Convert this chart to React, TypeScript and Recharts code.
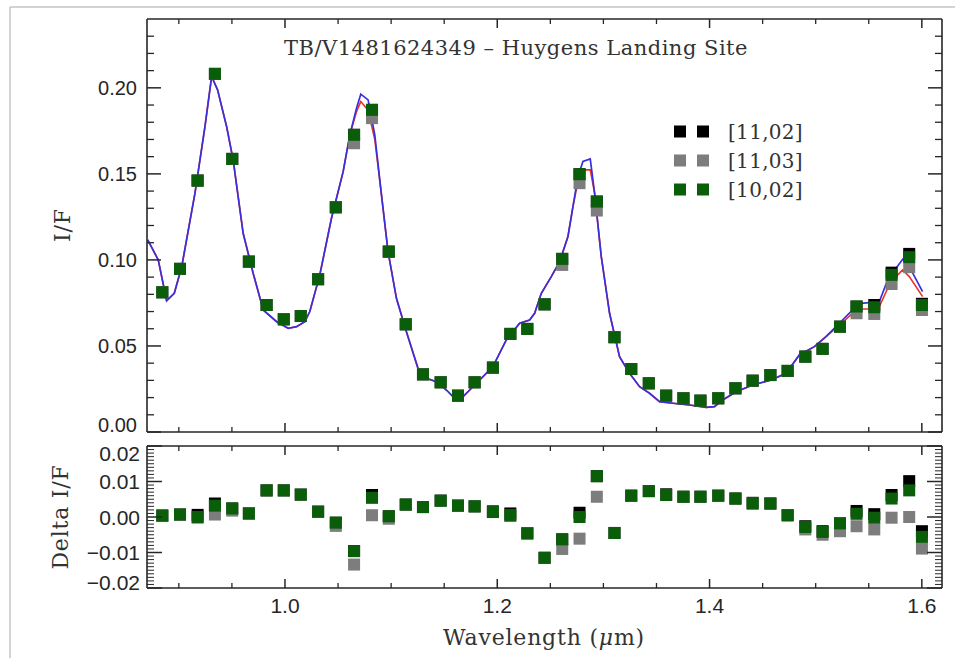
import React from "react";
import { ComposedChart, Scatter, Line, XAxis, YAxis } from "recharts";

// ---- data ----
const wavelengths = [
  0.8844, 0.9011, 0.9177, 0.934, 0.9503, 0.966, 0.9827, 0.9989, 1.0149, 1.0312,
  1.0479, 1.0651, 1.082, 1.0978, 1.1138, 1.13, 1.1467, 1.163, 1.1787, 1.1959,
  1.2123, 1.2283, 1.2446, 1.2612, 1.2775, 1.2938, 1.3104, 1.3262, 1.3428, 1.3591,
  1.3754, 1.3914, 1.4082, 1.4244, 1.4406, 1.4573, 1.4736, 1.4902, 1.5065, 1.5229,
  1.5385, 1.5552, 1.5715, 1.5881, 1.6001,
];

const iofBlack = [
  0.0812, 0.0948, 0.1461, 0.2081, 0.1587, 0.099, 0.0738, 0.0655, 0.0674, 0.0888,
  0.1306, 0.1727, 0.1872, 0.1048, 0.0626, 0.0335, 0.0289, 0.0211, 0.0289, 0.0374,
  0.057, 0.0599, 0.0742, 0.1006, 0.1498, 0.1339, 0.0551, 0.0366, 0.0283, 0.0211,
  0.0196, 0.0182, 0.0196, 0.0254, 0.0298, 0.0331, 0.0355, 0.0438, 0.0483, 0.0612,
  0.0729, 0.0738, 0.0926, 0.1035, 0.0745,
];
const iofGray = [
  0.0812, 0.0948, 0.1461, 0.2081, 0.1587, 0.099, 0.0738, 0.0655, 0.0674, 0.0888,
  0.1306, 0.1678, 0.1824, 0.1048, 0.0626, 0.0335, 0.0289, 0.0211, 0.0289, 0.0374,
  0.057, 0.0599, 0.0742, 0.0971, 0.1446, 0.1287, 0.0551, 0.0366, 0.0283, 0.0211,
  0.0196, 0.0182, 0.0196, 0.0254, 0.0298, 0.0331, 0.0355, 0.0438, 0.0483, 0.0612,
  0.069, 0.0686, 0.086, 0.0958, 0.0709,
];
const iofGreen = [
  0.0812, 0.0948, 0.1461, 0.2081, 0.1587, 0.099, 0.0738, 0.0655, 0.0674, 0.0888,
  0.1306, 0.1727, 0.1872, 0.1048, 0.0626, 0.0335, 0.0289, 0.0211, 0.0289, 0.0374,
  0.057, 0.0599, 0.0742, 0.1006, 0.1498, 0.1339, 0.0551, 0.0366, 0.0283, 0.0211,
  0.0196, 0.0182, 0.0196, 0.0254, 0.0298, 0.0331, 0.0355, 0.0438, 0.0483, 0.0612,
  0.0729, 0.0725, 0.0913, 0.1016, 0.0738,
];

const deltaBlack = [
  0.0004, 0.0007, 0.0006, 0.0038, 0.0024, 0.001, 0.0075, 0.0075, 0.0063, 0.0015,
  -0.0016, -0.0096, 0.0062, 0.0002, 0.0035, 0.0028, 0.0046, 0.0032, 0.003, 0.0016,
  0.001, -0.0046, -0.0115, -0.0063, 0.0012, 0.0115, -0.0045, 0.006, 0.0073, 0.0064,
  0.0057, 0.0057, 0.006, 0.0052, 0.004, 0.0038, 0.0005, -0.0026, -0.004, -0.0018,
  0.0017, 0.0008, 0.0062, 0.0101, -0.004,
];
const deltaGray = [
  0.0004, 0.0007, -0.0002, 0.0007, 0.0018, 0.001, 0.0075, 0.0075, 0.0063, 0.0015,
  -0.0025, -0.0134, 0.0005, -0.0005, 0.0035, 0.0028, 0.0046, 0.0032, 0.003, 0.0014,
  0.0004, -0.0046, -0.0115, -0.009, -0.0061, 0.0057, -0.0045, 0.006, 0.0073, 0.0062,
  0.0057, 0.0057, 0.006, 0.0052, 0.0038, 0.0038, 0.0005, -0.0035, -0.005, -0.004,
  -0.0026, -0.0035, -0.0002, 0.0, -0.0089,
];
const deltaGreen = [
  0.0004, 0.0007, 0.0, 0.0032, 0.0024, 0.001, 0.0075, 0.0075, 0.0063, 0.0015,
  -0.0016, -0.0096, 0.0054, 0.0002, 0.0035, 0.0028, 0.0046, 0.0032, 0.003, 0.0014,
  0.0004, -0.0046, -0.0115, -0.0063, 0.0, 0.0115, -0.0045, 0.006, 0.0073, 0.0062,
  0.0057, 0.0057, 0.006, 0.0052, 0.0038, 0.0038, 0.0005, -0.0028, -0.0042, -0.0018,
  0.0009, -0.0002, 0.0052, 0.0075, -0.0056,
];

const modelWavelengths = [
  0.8707, 0.8806, 0.8885, 0.8957, 0.9027, 0.9152, 0.9246, 0.9309, 0.9365, 0.945,
  0.9512, 0.9606, 0.97, 0.9795, 0.9921, 1.003, 1.0109, 1.0187, 1.0234, 1.0328,
  1.0438, 1.0548, 1.0611, 1.0674, 1.0714, 1.0783, 1.0846, 1.0909, 1.0971, 1.105,
  1.1144, 1.1253, 1.1332, 1.1427, 1.1521, 1.1599, 1.1677, 1.1771, 1.1834, 1.1959,
  1.2085, 1.2211, 1.2305, 1.2352, 1.2415, 1.2509, 1.2588, 1.2666, 1.2713, 1.276,
  1.2807, 1.2876, 1.2917, 1.298, 1.3058, 1.3152, 1.3246, 1.3341, 1.3435, 1.3529,
  1.3654, 1.3811, 1.3968, 1.4046, 1.4124, 1.425, 1.4407, 1.458, 1.4721, 1.4846,
  1.4988, 1.5097, 1.5222, 1.5348, 1.5427, 1.5505, 1.56, 1.5678, 1.5757, 1.5819,
  1.5882, 1.6007,
];
const modelBlue = [
  0.1116, 0.1, 0.0763, 0.0806, 0.096, 0.1388, 0.1775, 0.2066, 0.1988, 0.1775,
  0.158, 0.1155, 0.0923, 0.0709, 0.0641, 0.0603, 0.0612, 0.0641, 0.07, 0.0913,
  0.1242, 0.1513, 0.1727, 0.1882, 0.1963, 0.193, 0.1727, 0.1378, 0.1048, 0.0777,
  0.0583, 0.037, 0.0312, 0.0292, 0.0244, 0.0196, 0.0205, 0.0263, 0.0302, 0.038,
  0.0535, 0.0632, 0.0651, 0.069, 0.0806, 0.0903, 0.099, 0.1136, 0.131, 0.1484,
  0.1572, 0.1587, 0.1388, 0.1019, 0.069, 0.0438, 0.0341, 0.0263, 0.0225, 0.0176,
  0.0167, 0.0157, 0.0143, 0.0147, 0.0186, 0.0234, 0.0273, 0.0302, 0.0341, 0.0448,
  0.0496, 0.0554, 0.0632, 0.0709, 0.0748, 0.0752, 0.0758, 0.0884, 0.0952, 0.1004,
  0.0961, 0.0816,
];
const modelRed = [
  0.1116, 0.1, 0.0763, 0.0806, 0.096, 0.1388, 0.1775, 0.2066, 0.1988, 0.1775,
  0.158, 0.1155, 0.0923, 0.0709, 0.0641, 0.0603, 0.0612, 0.0641, 0.07, 0.0913,
  0.1242, 0.1513, 0.1727, 0.1862, 0.192, 0.187, 0.17, 0.1378, 0.1048, 0.0777,
  0.0583, 0.037, 0.0312, 0.0292, 0.0244, 0.0196, 0.0205, 0.0263, 0.0302, 0.038,
  0.0535, 0.0632, 0.0651, 0.069, 0.0806, 0.0903, 0.099, 0.1136, 0.131, 0.1455,
  0.1523, 0.1523, 0.1388, 0.1019, 0.069, 0.0438, 0.0341, 0.0263, 0.0225, 0.0176,
  0.0167, 0.0157, 0.0143, 0.0147, 0.0186, 0.0234, 0.0273, 0.0302, 0.0341, 0.0448,
  0.0496, 0.0554, 0.062, 0.069, 0.0715, 0.0715, 0.0729, 0.0835, 0.0903, 0.0942,
  0.0903, 0.0787,
];

const seriesNames = ["[11,02]", "[11,03]", "[10,02]"];
const seriesColors = ["#000000", "#7d7d7d", "#0a5e0a"];
const modelColors = ["#e8352c", "#3a2fdc"];

const titleText = "TB/V1481624349 \u2013 Huygens Landing Site";
const iofTitle = "I/F";
const deltaTitle = "Delta I/F";

const xMajorTicks = [1.0, 1.2, 1.4, 1.6];
const xMinorTicks = [0.9, 0.95, 1.0, 1.05, 1.1, 1.15, 1.2, 1.25, 1.3, 1.35, 1.4, 1.45, 1.5, 1.55, 1.6];
const iofMajorTicks = [0, 0.05, 0.1, 0.15, 0.2];
const iofMinorTicks = [
  0, 0.01, 0.02, 0.03, 0.04, 0.05, 0.06, 0.07, 0.08, 0.09, 0.1, 0.11, 0.12, 0.13,
  0.14, 0.15, 0.16, 0.17, 0.18, 0.19, 0.2, 0.21, 0.22, 0.23,
];
const deltaMajorTicks = [-0.02, -0.01, 0, 0.01, 0.02];
const deltaMinorTicks = [
  -0.02, -0.019, -0.018, -0.017, -0.016, -0.015, -0.014, -0.013, -0.012, -0.011,
  -0.01, -0.009, -0.008, -0.007, -0.006, -0.005, -0.004, -0.003, -0.002, -0.001,
  0, 0.001, 0.002, 0.003, 0.004, 0.005, 0.006, 0.007, 0.008, 0.009, 0.01, 0.011,
  0.012, 0.013, 0.014, 0.015, 0.016, 0.017, 0.018, 0.019, 0.02,
];

const xDomain = [0.87, 1.619];
const iofDomain = [0, 0.24];
const deltaDomain = [-0.02, 0.02];

// ---- helpers ----
const toPoints = (vals: number[]) => wavelengths.map((w, i) => ({ wl: w, v: vals[i] }));
const toModel = (vals: number[]) => modelWavelengths.map((w, i) => ({ wl: w, v: vals[i] }));

const topSeries = [iofBlack, iofGray, iofGreen].map(toPoints);
const botSeries = [deltaBlack, deltaGray, deltaGreen].map(toPoints);
const redLine = toModel(modelRed);
const blueLine = toModel(modelBlue);

const SQ = 12;
const squareShape = (color: string) => (props: any) => {
  const { cx, cy } = props;
  if (cx == null || cy == null || isNaN(cx) || isNaN(cy)) return <g />;
  return <rect x={cx - SQ / 2} y={cy - SQ / 2} width={SQ} height={SQ} fill={color} />;
};

const AX = "#262626";
const axisLine = { stroke: AX, strokeWidth: 1.6 };
const sansFont = "Liberation Sans, Arial, sans-serif";
const serif = "DejaVu Serif, serif";

const fmt2 = (v: number) => (v < 0 ? "\u2212" + Math.abs(v).toFixed(2) : v.toFixed(2));
const fmt1 = (v: number) => v.toFixed(1);

type Side = "left" | "right" | "top" | "bottom";
interface TickOpts {
  major: number[];
  majorLen: number;
  minorLen: number;
  minorWidth?: number;
  fmt?: (v: number) => string;
  gap?: number;
  fontSize?: number;
  shifts?: { value: number; dy: number }[];
}
const makeTick = (side: Side, o: TickOpts) => (props: any) => {
  const x = Number(props.x);
  const y = Number(props.y);
  const v = props.payload ? props.payload.value : 0;
  const isMajor = o.major.some((m) => Math.abs(m - v) < 1e-9);
  const len = isMajor ? o.majorLen : o.minorLen;
  const sw = isMajor ? 1.5 : o.minorWidth ?? 1.3;
  let x2 = x;
  let y2 = y;
  if (side === "left") x2 = x + len;
  if (side === "right") x2 = x - len;
  if (side === "top") y2 = y + len;
  if (side === "bottom") y2 = y - len;
  let label: React.ReactNode = null;
  if (o.fmt && isMajor) {
    const fs = o.fontSize ?? 20;
    const sh = (o.shifts || []).find((s) => Math.abs(s.value - v) < 1e-9);
    const dy = sh ? sh.dy : 0;
    if (side === "left") {
      label = (
        <text x={x - (o.gap ?? 10)} y={y + dy + fs * 0.36} textAnchor="end" fontFamily={sansFont} fontSize={fs} fill="#262626">
          {o.fmt(v)}
        </text>
      );
    } else if (side === "bottom") {
      label = (
        <text x={x} y={y + (o.gap ?? 10) + fs * 0.72} textAnchor="middle" fontFamily={sansFont} fontSize={fs} fill="#262626">
          {o.fmt(v)}
        </text>
      );
    }
  }
  return (
    <g>
      <line x1={x} y1={y} x2={x2} y2={y2} stroke={AX} strokeWidth={sw} />
      {label}
    </g>
  );
};

const commonX = { type: "number" as const, dataKey: "wl", domain: xDomain, allowDataOverflow: true, ticks: xMinorTicks, interval: 0 as const, tickSize: 0, tickMargin: 0, tickLine: false, axisLine };

export default function App() {
  return (
    <div style={{ position: "absolute", left: 0, top: 0, width: 955, height: 658, background: "#fff" }}>
      {/* top panel */}
      <div style={{ position: "absolute", left: 0, top: 0 }}>
        <ComposedChart width={955} height={440} margin={{ top: 18, right: 12, bottom: 7, left: 146 }}>
          <XAxis xAxisId="x" orientation="bottom" height={1} {...commonX}
            tick={makeTick("bottom", { major: xMajorTicks, majorLen: 9, minorLen: 5 })} />
          <XAxis xAxisId="xt" orientation="top" height={1} {...commonX}
            tick={makeTick("top", { major: xMajorTicks, majorLen: 9, minorLen: 5 })} />
          <YAxis yAxisId="y" orientation="left" type="number" dataKey="v" domain={iofDomain} allowDataOverflow
            ticks={iofMinorTicks} interval={0} width={1} tickSize={0} tickMargin={0} tickLine={false} axisLine={axisLine}
            tick={makeTick("left", { major: iofMajorTicks, majorLen: 14, minorLen: 7, fmt: fmt2, gap: 10, fontSize: 20, shifts: [{ value: 0, dy: -7 }] })} />
          <YAxis yAxisId="yr" orientation="right" type="number" dataKey="v" domain={iofDomain} allowDataOverflow
            ticks={iofMinorTicks} interval={0} width={1} tickSize={0} tickMargin={0} tickLine={false} axisLine={axisLine}
            tick={makeTick("right", { major: iofMajorTicks, majorLen: 14, minorLen: 7 })} />
          {topSeries.map((pts, i) => (
            <Scatter key={"t" + i} name={seriesNames[i]} data={pts} xAxisId="x" yAxisId="y"
              shape={squareShape(seriesColors[i])} isAnimationActive={false} />
          ))}
          <Line data={redLine} dataKey="v" xAxisId="x" yAxisId="y" type="linear" stroke={modelColors[0]}
            strokeWidth={1.6} dot={false} activeDot={false} isAnimationActive={false} />
          <Line data={blueLine} dataKey="v" xAxisId="x" yAxisId="y" type="linear" stroke={modelColors[1]}
            strokeWidth={1.7} dot={false} activeDot={false} isAnimationActive={false} />
        </ComposedChart>
      </div>

      {/* bottom panel */}
      <div style={{ position: "absolute", left: 0, top: 0 }}>
        <ComposedChart width={955} height={658} margin={{ top: 445, right: 12, bottom: 69, left: 146 }}>
          <XAxis xAxisId="x" orientation="bottom" height={1} {...commonX}
            tick={makeTick("bottom", { major: xMajorTicks, majorLen: 9, minorLen: 5, fmt: fmt1, gap: 10, fontSize: 21 })} />
          <XAxis xAxisId="xt" orientation="top" height={1} {...commonX}
            tick={makeTick("top", { major: xMajorTicks, majorLen: 9, minorLen: 5 })} />
          <YAxis yAxisId="y" orientation="left" type="number" dataKey="v" domain={deltaDomain} allowDataOverflow
            ticks={deltaMinorTicks} interval={0} width={1} tickSize={0} tickMargin={0} tickLine={false} axisLine={axisLine}
            tick={makeTick("left", {
              major: deltaMajorTicks, majorLen: 15, minorLen: 7, minorWidth: 1, fmt: fmt2, gap: 7, fontSize: 21,
              shifts: [{ value: 0.02, dy: 7 }, { value: -0.02, dy: -6 }],
            })} />
          <YAxis yAxisId="yr" orientation="right" type="number" dataKey="v" domain={deltaDomain} allowDataOverflow
            ticks={deltaMinorTicks} interval={0} width={1} tickSize={0} tickMargin={0} tickLine={false} axisLine={axisLine}
            tick={makeTick("right", { major: deltaMajorTicks, majorLen: 15, minorLen: 7, minorWidth: 1 })} />
          {botSeries.map((pts, i) => (
            <Scatter key={"b" + i} name={seriesNames[i]} data={pts} xAxisId="x" yAxisId="y"
              shape={squareShape(seriesColors[i])} isAnimationActive={false} />
          ))}
        </ComposedChart>
      </div>

      {/* annotations: frame, title, legend, axis titles */}
      <svg width={955} height={658} style={{ position: "absolute", left: 0, top: 0, pointerEvents: "none" }}>
        <line x1={10} y1={7} x2={955} y2={7} stroke="#c4c4c4" strokeWidth={1.5} />
        <line x1={10} y1={7} x2={10} y2={658} stroke="#c4c4c4" strokeWidth={1.5} />
        <text x={516} y={55} textAnchor="middle" fontFamily={serif} fontSize={21} letterSpacing={0.5} fill="#333">
          {titleText}
        </text>
        {seriesNames.map((name, i) => {
          const cy = 131.5 + i * 29;
          return (
            <g key={name}>
              <rect x={674} y={cy - 6} width={12} height={12} fill={seriesColors[i]} />
              <rect x={697} y={cy - 6} width={12} height={12} fill={seriesColors[i]} />
              <text x={728} y={cy + 7} fontFamily={serif} fontSize={20} letterSpacing={0.3} fill="#333">{name}</text>
            </g>
          );
        })}
        <text x={62} y={225} textAnchor="middle" dominantBaseline="central" transform="rotate(-90 62 225)"
          fontFamily={serif} fontSize={22} letterSpacing={0.8} fill="#333">{iofTitle}</text>
        <text x={60} y={517} textAnchor="middle" dominantBaseline="central" transform="rotate(-90 60 517)"
          fontFamily={serif} fontSize={22} letterSpacing={0.8} fill="#333">{deltaTitle}</text>
        <text x={544} y={645} textAnchor="middle" fontFamily={serif} fontSize={22} letterSpacing={0.8} fill="#333">
          Wavelength (<tspan fontStyle="italic">{"\u03bc"}</tspan>m)
        </text>
      </svg>
    </div>
  );
}
